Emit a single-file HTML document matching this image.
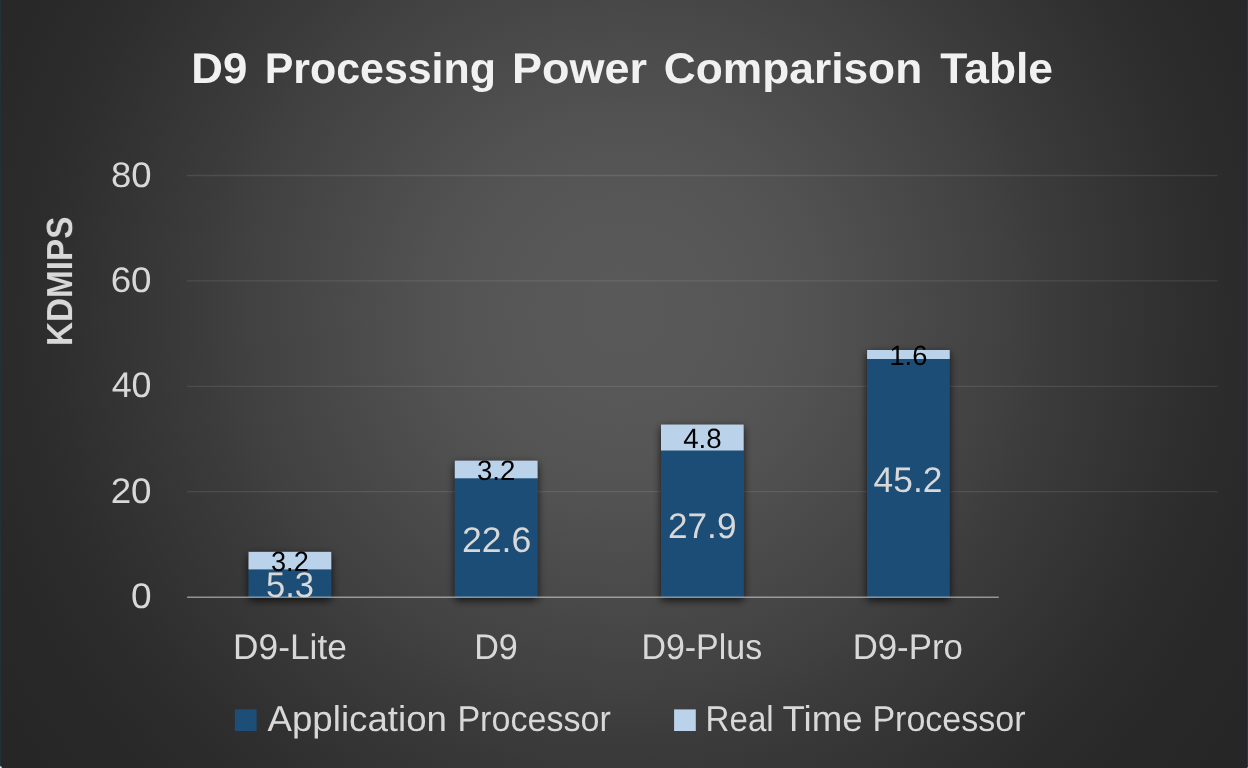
<!DOCTYPE html>
<html><head><meta charset="utf-8"><title>D9 Processing Power Comparison Table</title>
<style>
html,body{margin:0;padding:0;background:#262626;}
body{width:1248px;height:768px;overflow:hidden;}
svg{display:block;font-family:"Liberation Sans",sans-serif;text-rendering:geometricPrecision;}
</style></head><body>
<svg width="1248" height="768" viewBox="0 0 1248 768">
<defs>
<radialGradient id="bg" gradientUnits="userSpaceOnUse" cx="624" cy="312" r="777">
<stop offset="0.0000" stop-color="rgb(89.00,89.00,89.00)"/>
<stop offset="0.0417" stop-color="rgb(88.78,88.78,88.78)"/>
<stop offset="0.0833" stop-color="rgb(88.13,88.13,88.13)"/>
<stop offset="0.1250" stop-color="rgb(87.06,87.06,87.06)"/>
<stop offset="0.1667" stop-color="rgb(85.58,85.58,85.58)"/>
<stop offset="0.2083" stop-color="rgb(83.73,83.73,83.73)"/>
<stop offset="0.2500" stop-color="rgb(81.53,81.53,81.53)"/>
<stop offset="0.2917" stop-color="rgb(79.02,79.02,79.02)"/>
<stop offset="0.3333" stop-color="rgb(76.25,76.25,76.25)"/>
<stop offset="0.3750" stop-color="rgb(73.26,73.26,73.26)"/>
<stop offset="0.4167" stop-color="rgb(70.10,70.10,70.10)"/>
<stop offset="0.4583" stop-color="rgb(66.83,66.83,66.83)"/>
<stop offset="0.5000" stop-color="rgb(63.50,63.50,63.50)"/>
<stop offset="0.5417" stop-color="rgb(60.17,60.17,60.17)"/>
<stop offset="0.5833" stop-color="rgb(56.90,56.90,56.90)"/>
<stop offset="0.6250" stop-color="rgb(53.74,53.74,53.74)"/>
<stop offset="0.6667" stop-color="rgb(50.75,50.75,50.75)"/>
<stop offset="0.7083" stop-color="rgb(47.98,47.98,47.98)"/>
<stop offset="0.7500" stop-color="rgb(45.47,45.47,45.47)"/>
<stop offset="0.7917" stop-color="rgb(43.27,43.27,43.27)"/>
<stop offset="0.8333" stop-color="rgb(41.42,41.42,41.42)"/>
<stop offset="0.8750" stop-color="rgb(39.94,39.94,39.94)"/>
<stop offset="0.9167" stop-color="rgb(38.87,38.87,38.87)"/>
<stop offset="0.9583" stop-color="rgb(38.22,38.22,38.22)"/>
<stop offset="1.0000" stop-color="rgb(38.00,38.00,38.00)"/>
</radialGradient>
<filter id="sh" x="-20%" y="-20%" width="140%" height="140%">
<feGaussianBlur in="SourceAlpha" stdDeviation="4"/>
<feOffset dx="0" dy="3"/>
<feComponentTransfer><feFuncA type="linear" slope="0.78"/></feComponentTransfer>
<feMerge><feMergeNode/><feMergeNode in="SourceGraphic"/></feMerge>
</filter>
</defs>
<rect x="0" y="0" width="1248" height="768" fill="url(#bg)"/>
<rect x="0" y="0" width="1.1" height="768" fill="#223039"/>
<rect x="1246.85" y="0" width="1.15" height="768" fill="#1f3a52"/>
<path d="M0 765.9 Q1.9 766.1 2 768 L0 768 Z" fill="#d3e0ea"/>
<rect x="1247" y="767.2" width="1" height="0.8" fill="#7f9db8"/>

<line x1="187.1" x2="1217.5" y1="175.5" y2="175.5" stroke="#f2f2f2" stroke-opacity="0.1" stroke-width="1.3"/>
<line x1="187.1" x2="1217.5" y1="280.9" y2="280.9" stroke="#f2f2f2" stroke-opacity="0.1" stroke-width="1.3"/>
<line x1="187.1" x2="1217.5" y1="386.3" y2="386.3" stroke="#f2f2f2" stroke-opacity="0.1" stroke-width="1.3"/>
<line x1="187.1" x2="1217.5" y1="491.7" y2="491.7" stroke="#f2f2f2" stroke-opacity="0.1" stroke-width="1.3"/>
<g filter="url(#sh)"><rect x="248.6" y="569.1" width="82.6" height="28.10" fill="#1d4e77"/><rect x="248.6" y="551.9" width="82.6" height="17.50" fill="#bbd3ea"/></g>
<g filter="url(#sh)"><rect x="454.9" y="478.0" width="82.6" height="119.20" fill="#1d4e77"/><rect x="454.9" y="460.7" width="82.6" height="17.60" fill="#bbd3ea"/></g>
<g filter="url(#sh)"><rect x="661.0" y="450.2" width="82.6" height="147.00" fill="#1d4e77"/><rect x="661.0" y="424.6" width="82.6" height="25.90" fill="#bbd3ea"/></g>
<g filter="url(#sh)"><rect x="867.1" y="358.7" width="82.6" height="238.50" fill="#1d4e77"/><rect x="867.1" y="350.0" width="82.6" height="9.00" fill="#bbd3ea"/></g>
<line x1="187.1" x2="998.8" y1="597.2" y2="597.2" stroke="#f2f2f2" stroke-opacity="0.5" stroke-width="1.4"/>
<rect x="234.9" y="709.4" width="21.7" height="21.6" fill="#1d4e77"/>
<rect x="674.1" y="709.4" width="21.7" height="21.6" fill="#bbd3ea"/>
<g opacity="0.999">
<text transform="translate(194.20,83.00) scale(1.0215,1) translate(-2.896,0)" font-size="42.91" font-weight="bold" fill="#f2f2f2">D9</text>
<text transform="translate(267.55,83.00) scale(0.9998,1) translate(-2.896,0)" font-size="42.91" font-weight="bold" fill="#f2f2f2">Processing</text>
<text transform="translate(515.10,83.00) scale(1.0487,1) translate(-2.896,0)" font-size="42.91" font-weight="bold" fill="#f2f2f2">Power</text>
<text transform="translate(665.50,83.00) scale(1.0326,1) translate(-1.716,0)" font-size="42.91" font-weight="bold" fill="#f2f2f2">Comparison</text>
<text transform="translate(940.80,83.00) scale(1.0350,1) translate(-0.429,0)" font-size="42.91" font-weight="bold" fill="#f2f2f2">Table</text>
<text transform="translate(112.50,186.64) scale(1.0269,1) translate(-1.511,0)" font-size="35.55" fill="#d9d9d9">80</text>
<text transform="translate(112.50,292.04) scale(1.0345,1) translate(-1.777,0)" font-size="35.55" fill="#d9d9d9">60</text>
<text transform="translate(112.50,397.44) scale(1.0074,1) translate(-0.800,0)" font-size="35.55" fill="#d9d9d9">40</text>
<text transform="translate(112.50,502.84) scale(1.0345,1) translate(-1.777,0)" font-size="35.55" fill="#d9d9d9">20</text>
<text transform="translate(132.40,608.34) scale(1.0428,1) translate(-1.422,0)" font-size="35.55" fill="#d9d9d9">0</text>
<text transform="translate(236.00,659.10) scale(0.9942,1) translate(-2.928,0)" font-size="35.49" fill="#d9d9d9">D9-Lite</text>
<text transform="translate(477.00,659.10) scale(0.9629,1) translate(-2.928,0)" font-size="35.49" fill="#d9d9d9">D9</text>
<text transform="translate(644.20,659.10) scale(0.9567,1) translate(-2.928,0)" font-size="35.49" fill="#d9d9d9">D9-Plus</text>
<text transform="translate(855.50,659.10) scale(0.9808,1) translate(-2.928,0)" font-size="35.49" fill="#d9d9d9">D9-Pro</text>
<text transform="translate(267.55,731.30) scale(1.0219,1) translate(-0.090,0)" font-size="35.93" fill="#d9d9d9">Application</text>
<text transform="translate(460.20,731.30) scale(0.9483,1) translate(-2.964,0)" font-size="35.93" fill="#d9d9d9">Processor</text>
<text transform="translate(708.30,731.30) scale(0.9222,1) translate(-2.964,0)" font-size="35.93" fill="#d9d9d9">Real</text>
<text transform="translate(783.40,731.30) scale(1.0201,1) translate(-0.808,0)" font-size="35.93" fill="#d9d9d9">Time</text>
<text transform="translate(875.20,731.30) scale(0.9471,1) translate(-2.964,0)" font-size="35.93" fill="#d9d9d9">Processor</text>
<text transform="translate(267.40,597.14) scale(0.9706,1) translate(-1.425,0)" font-size="35.62" fill="#d9d9d9">5.3</text>
<text transform="translate(463.70,551.64) scale(1.0003,1) translate(-1.781,0)" font-size="35.62" fill="#d9d9d9">22.6</text>
<text transform="translate(669.70,537.84) scale(0.9887,1) translate(-1.781,0)" font-size="35.62" fill="#d9d9d9">27.9</text>
<text transform="translate(874.40,492.34) scale(0.9926,1) translate(-0.801,0)" font-size="35.62" fill="#d9d9d9">45.2</text>
<text transform="translate(272.00,570.92) scale(0.9761,1) translate(-1.044,0)" font-size="27.84" fill="#000">3.2</text>
<text transform="translate(478.00,479.82) scale(0.9876,1) translate(-1.049,0)" font-size="27.99" fill="#000">3.2</text>
<text transform="translate(683.75,447.82) scale(0.9961,1) translate(-0.627,0)" font-size="27.84" fill="#000">4.8</text>
<text transform="translate(891.46,365.02) scale(0.9805,1) translate(-2.088,0)" font-size="27.84" fill="#000">1.6</text>
<text transform="translate(72.1,343.75) rotate(-90) scale(0.9157,1) translate(-2.455,0)" font-size="36.36" font-weight="bold" fill="#d9d9d9">KDMIPS</text>
</g>
</svg></body></html>
